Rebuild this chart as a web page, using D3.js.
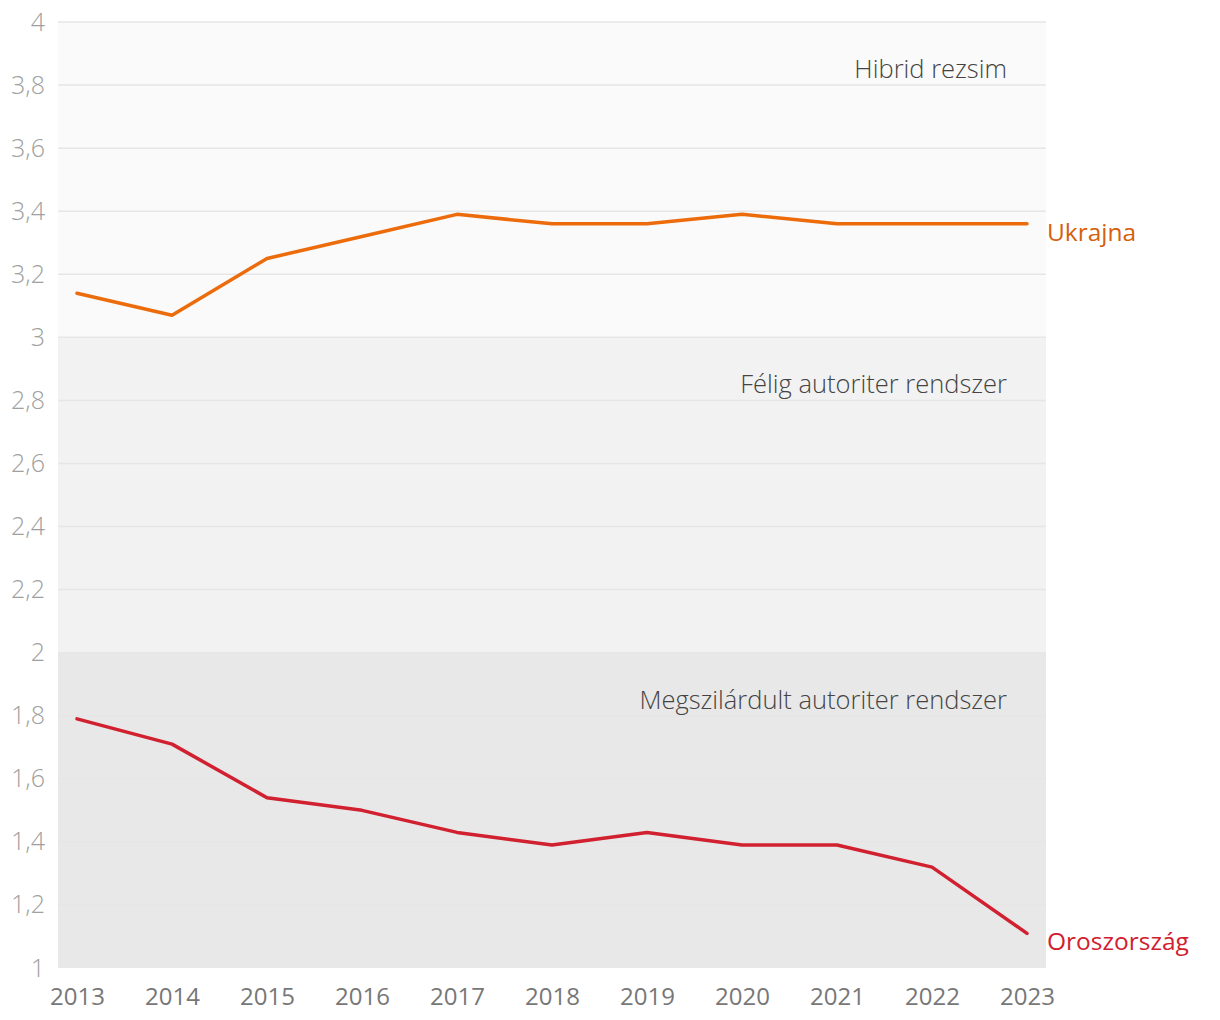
<!DOCTYPE html>
<html lang="hu">
<head>
<meta charset="utf-8">
<script src="https://d3js.org/d3.v7.min.js"></script>
<style type="text/css">
body { margin: 0; background: #fff; }
text { font-family: "Open Sans", "Noto Sans", sans-serif; }
</style>
</head>
<body>
<script type="text/javascript">

// data
var years = ["2013", "2014", "2015", "2016", "2017", "2018", "2019", "2020", "2021", "2022", "2023"];
var ukraine = [3.14, 3.07, 3.25, 3.32, 3.39, 3.36, 3.36, 3.39, 3.36, 3.36, 3.36];
var russia = [1.79, 1.71, 1.54, 1.50, 1.43, 1.39, 1.43, 1.39, 1.39, 1.32, 1.11];
var yTicks = [1, 1.2, 1.4, 1.6, 1.8, 2, 2.2, 2.4, 2.6, 2.8, 3, 3.2, 3.4, 3.6, 3.8, 4];
var bandNames = ["Megszilárdult autoriter rendszer", "Félig autoriter rendszer", "Hibrid rezsim"];
var bandRanges = [[1, 2], [2, 3], [3, 4]];
var bandFill = ["#e8e8e8", "#f2f2f2", "#fafafa"];

var width = 1220;
var height = 1020;
var plotLeft = 58, plotRight = 1046, plotTop = 22, plotBottom = 968;

var x = d3.scalePoint()
	.domain(years)
	.range([plotLeft, plotRight])
	.padding(0.2);

var y = d3.scaleLinear()
	.domain([1, 4])
	.range([plotBottom, plotTop]);

var svg = d3.select("body")
	.append("svg")
	.attr("width", width)
	.attr("height", height);

// background bands
svg.selectAll("rect.band")
	.data(bandRanges)
	.enter()
	.append("rect")
	.attr("class", "band")
	.attr("x", plotLeft)
	.attr("width", plotRight - plotLeft)
	.attr("y", function(d) { return y(d[1]); })
	.attr("height", function(d) { return y(d[0]) - y(d[1]); })
	.attr("fill", function(d, i) { return bandFill[i]; });

// grid lines (same tone as the darkest band, so they vanish there)
svg.selectAll("line.grid")
	.data(yTicks.filter(function(d) { return d > 1; }))
	.enter()
	.append("line")
	.attr("class", "grid")
	.attr("x1", plotLeft)
	.attr("x2", plotRight)
	.attr("y1", function(d) { return y(d); })
	.attr("y2", function(d) { return y(d); })
	.attr("stroke", "#e6e6e6")
	.attr("stroke-width", 1.5);

// y axis labels
var fmt = function(d) { return String(+d.toFixed(1)).replace(".", ","); };
var yAxis = svg.append("g")
	.attr("transform", "translate(" + plotLeft + ",0)")
	.call(d3.axisLeft(y).tickValues(yTicks).tickFormat(fmt).tickSize(0).tickPadding(13));
yAxis.select(".domain").remove();
yAxis.selectAll("text")
	.attr("fill", "#a0a0a0")
	.style("font-size", "25px")
	.style("font-family", "'Open Sans', sans-serif")
	.style("font-weight", 300);

// x axis labels
var xAxis = svg.append("g")
	.attr("transform", "translate(0," + plotBottom + ")")
	.call(d3.axisBottom(x).tickSize(0).tickPadding(20));
xAxis.select(".domain").remove();
xAxis.selectAll("text")
	.attr("fill", "#777")
	.style("font-size", "24px")
	.style("font-family", "'Open Sans', sans-serif")
	.style("font-weight", 400);

// band names
svg.selectAll("text.bandname")
	.data(bandNames)
	.enter()
	.append("text")
	.attr("class", "bandname")
	.attr("x", 1007)
	.attr("y", function(d, i) { return y(bandRanges[i][1]) + 56; })
	.attr("text-anchor", "end")
	.attr("fill", "#444")
	.style("font-size", "25.5px")
	.style("font-weight", 300)
	.text(function(d) { return d; });

var line = d3.line()
	.x(function(d, i) { return x(years[i]); })
	.y(function(d) { return y(d); });

var series = [
	{name: "Ukrajna", values: ukraine, color: "#ec6b0b", label: "#d5600c"},
	{name: "Oroszország", values: russia, color: "#d1202f", label: "#d1202f"}
];

svg.selectAll("path.series")
	.data(series)
	.enter()
	.append("path")
	.attr("class", "series")
	.attr("d", function(d) { return line(d.values); })
	.attr("fill", "none")
	.attr("stroke", function(d) { return d.color; })
	.attr("stroke-width", 3.5)
	.attr("stroke-linejoin", "round")
	.attr("stroke-linecap", "round");

svg.selectAll("text.serieslabel")
	.data(series)
	.enter()
	.append("text")
	.attr("class", "serieslabel")
	.attr("x", plotRight + 1)
	.attr("y", function(d) { return y(d.values[d.values.length - 1]) + 17; })
	.attr("fill", function(d) { return d.label; })
	.style("font-size", "24.5px")
	.style("font-weight", 400)
	.text(function(d) { return d.name; });

</script>
</body>
</html>
